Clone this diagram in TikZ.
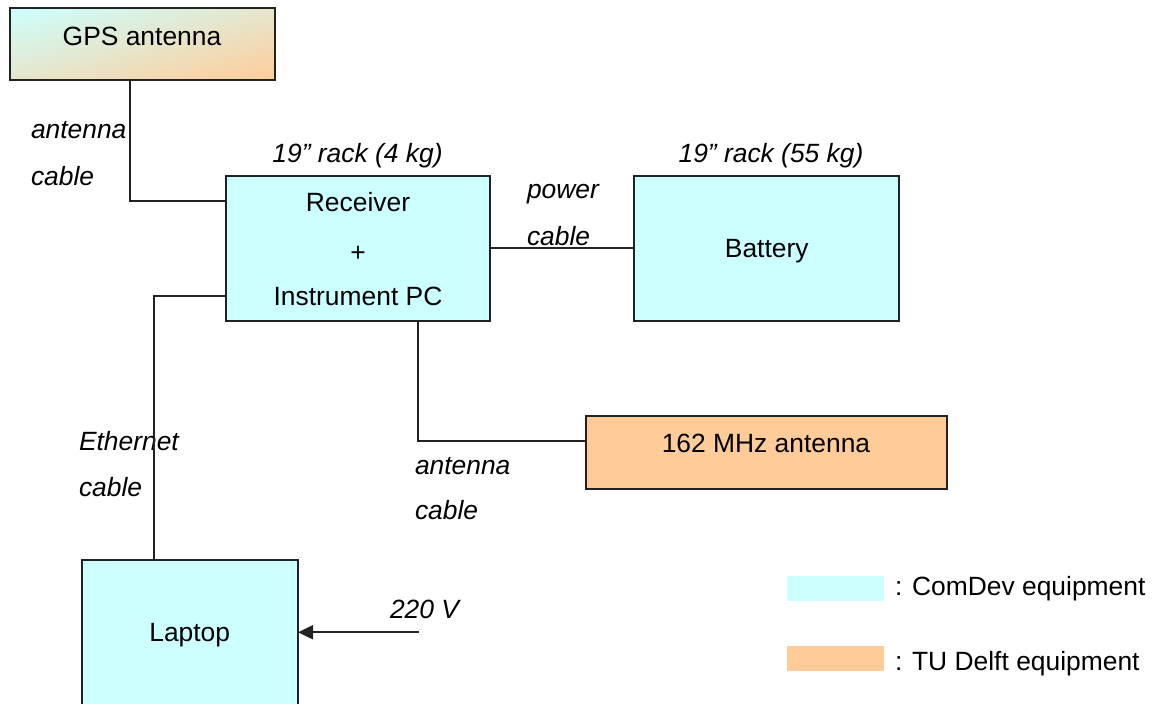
\documentclass[tikz,border=0pt]{standalone}
\usepackage{fontspec}
\setmainfont{Liberation Sans}
\usetikzlibrary{arrows.meta,shadings}
\definecolor{comdev}{HTML}{CCFFFF}
\definecolor{tud}{HTML}{FFCC99}
\definecolor{mixc}{HTML}{E6E6CC}
\definecolor{edge}{HTML}{222222}
\tikzset{
  box/.style={draw=edge, line width=2pt, inner sep=0pt, outer sep=0pt, anchor=north west},
  txt/.style={inner sep=0pt, outer sep=0pt, anchor=base, font=\fontsize{26.4}{31}\selectfont},
  ltxt/.style={txt, anchor=base west},
  itxt/.style={ltxt, font=\fontsize{26.4}{31}\selectfont\itshape},
  ctxt/.style={txt, font=\fontsize{26.4}{31}\selectfont\itshape},
  wire/.style={draw=edge, line width=2pt},
  legbox/.style={inner sep=0pt, outer sep=0pt, anchor=north west, minimum width=97.3pt, minimum height=24.7pt}
}
\begin{document}
\begin{tikzpicture}[x=1pt,y=-1pt]
\useasboundingbox (0,0) rectangle (1154,704);
\clip (0,0) rectangle (1154,704);
% boxes
\node[box, upper left=comdev, lower right=tud, upper right=mixc, lower left=mixc,
      minimum width=265pt, minimum height=72pt] (gps) at (10,8) {};
\node[box, fill=comdev, minimum width=264pt, minimum height=144.7pt] (rcv) at (226,176) {};
\node[box, fill=comdev, minimum width=264.7pt, minimum height=144.7pt] (bat) at (634,176) {};
\node[box, fill=tud, minimum width=361pt, minimum height=73.3pt] (ant) at (585.7,415.7) {};
\node[box, fill=comdev, minimum width=216pt, minimum height=160pt] (lap) at (82,560) {};
% legend
\node[legbox, fill=comdev] (legc) at (786.7,576) {};
\node[legbox, fill=tud] (lego) at (786.7,646) {};
% box texts
\node[txt] (gpst) at (142,45) {GPS antenna};
\node[txt] (rcvt1) at (358,211.7) {Receiver};
\node[txt] (rcvt2) at (358,261) {+};
\node[txt] (rcvt3) at (358,305) {Instrument PC};
\node[txt] (batt) at (766.7,257.7) {Battery};
\node[txt] (antt) at (766,452.3) {162 MHz antenna};
\node[txt] (lapt) at (189.7,641.7) {Laptop};
% labels
\node[ctxt] (rack4) at (357.5,162) {19” rack (4 kg)};
\node[ctxt] (rack55) at (771,162) {19” rack (55 kg)};
\node[itxt] (l1a) at (31,138) {antenna};
\node[itxt] (l1b) at (31,185) {cable};
\node[itxt] (l2a) at (527,198) {power};
\node[itxt] (l2b) at (527,245) {cable};
\node[itxt] (l3a) at (415,474) {antenna};
\node[itxt] (l3b) at (415,519) {cable};
\node[itxt] (l4a) at (79,450.7) {Ethernet};
\node[itxt] (l4b) at (79,496.7) {cable};
\node[itxt] (l5) at (390,618) {220 V};
\node[ltxt] (legct) at (895,595) {: ComDev equipment};
\node[ltxt] (legot) at (895,670) {: TU Delft equipment};
% connectors
\draw[wire] ([xshift=120pt]gps.south west) |- ([yshift=-24.7pt]rcv.north west);
\draw[wire] (rcv) -- (bat);
\draw[wire] ([xshift=191.7pt]rcv.south west) |- ([yshift=-25.3pt]ant.north west);
\draw[wire] ([yshift=-119.7pt]rcv.north west) -| ([xshift=72pt]lap.north west);
\coordinate (mains) at (419,632.3);
\draw[wire, -{Triangle[length=15pt,width=14pt]}] (mains) -- (mains -| lap.east);
\end{tikzpicture}
\end{document}
